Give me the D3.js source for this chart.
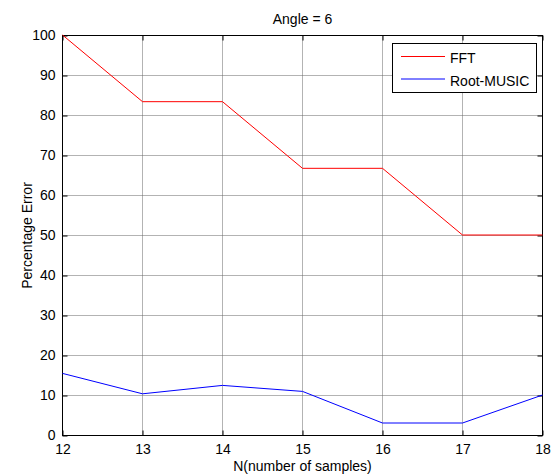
<!DOCTYPE html>
<html>
<head>
<meta charset="utf-8">
<script src="https://cdn.jsdelivr.net/npm/d3@7"></script>
<style>
  html, body { margin: 0; padding: 0; background: #fff; }
  svg { display: block; font-family: "Liberation Sans", Arial, sans-serif; }
</style>
</head>
<body>
<svg id="chart" width="552" height="476"></svg>
<script>
// Sample counts along the x axis
const samples = [12, 13, 14, 15, 16, 17, 18];
// Percentage error for each estimator
const fftError = [100, 83.33, 83.33, 66.67, 66.67, 50, 50];
const rootMusicError = [15.4, 10.3, 12.4, 10.9, 3.0, 3.0, 10];
const xTicks = [12, 13, 14, 15, 16, 17, 18];
const yTicks = [0, 10, 20, 30, 40, 50, 60, 70, 80, 90, 100];
const seriesNames = ["FFT", "Root-MUSIC"];
const seriesColors = ["#ff0000", "#0000ff"];

const svg = d3.select("#chart");
const m = { left: 62.5, right: 542.5, top: 35.5, bottom: 435.5 };

const x = d3.scaleLinear().domain([12, 18]).range([m.left, m.right]);
const y = d3.scaleLinear().domain([0, 100]).range([m.bottom, m.top]);

// Dotted grid
const grid = svg.append("g").attr("stroke", "#666").attr("stroke-dasharray", "1,1")
  .attr("stroke-width", 1);
xTicks.forEach(t => {
  grid.append("line").attr("x1", x(t)).attr("x2", x(t)).attr("y1", m.top).attr("y2", m.bottom);
});
yTicks.forEach(t => {
  grid.append("line").attr("x1", m.left).attr("x2", m.right).attr("y1", y(t)).attr("y2", y(t));
});

// Axes with inward ticks on all four sides
const tickLen = 5;
svg.append("g").attr("transform", `translate(0,${m.bottom})`)
  .call(d3.axisBottom(x).tickValues(xTicks).tickSize(-tickLen).tickPadding(9).tickFormat(d3.format("d")))
  .call(g => g.select(".domain").remove());
svg.append("g").attr("transform", `translate(0,${m.top})`)
  .call(d3.axisTop(x).tickValues(xTicks).tickSize(-tickLen).tickFormat(""))
  .call(g => g.select(".domain").remove());
svg.append("g").attr("transform", `translate(${m.left},0)`)
  .call(d3.axisLeft(y).tickValues(yTicks).tickSize(-tickLen).tickPadding(7).tickFormat(d3.format("d")))
  .call(g => g.select(".domain").remove());
svg.append("g").attr("transform", `translate(${m.right},0)`)
  .call(d3.axisRight(y).tickValues(yTicks).tickSize(-tickLen).tickFormat(""))
  .call(g => g.select(".domain").remove());

svg.selectAll(".tick text").attr("font-size", 14).attr("fill", "#000")
  .attr("font-family", "'Liberation Sans', Arial, sans-serif");
svg.selectAll(".tick line").attr("stroke", "#000");

// Axes box
svg.append("rect").attr("x", m.left).attr("y", m.top)
  .attr("width", m.right - m.left).attr("height", m.bottom - m.top)
  .attr("fill", "none").attr("stroke", "#000").attr("stroke-width", 1);

// Series lines (half-pixel shift gives the soft anti-aliased look)
const line = d3.line().x((d, i) => x(samples[i])).y(d => y(d));
const series = svg.append("g").attr("transform", "translate(0,-0.5)");
[fftError, rootMusicError].forEach((vals, k) => {
  series.append("path").datum(vals).attr("d", line)
    .attr("fill", "none").attr("stroke", seriesColors[k]).attr("stroke-width", 1);
});

// Title and axis labels
svg.append("text").attr("x", (m.left + m.right) / 2).attr("y", 24)
  .attr("text-anchor", "middle").attr("font-size", 14).text("Angle = 6");
svg.append("text").attr("x", (m.left + m.right) / 2).attr("y", 471)
  .attr("text-anchor", "middle").attr("font-size", 14).text("N(number of samples)");
svg.append("text").attr("transform", `translate(32,${(m.top + m.bottom) / 2}) rotate(-90)`)
  .attr("text-anchor", "middle").attr("font-size", 14).text("Percentage Error");

// Legend
const lg = svg.append("g");
lg.append("rect").attr("x", 392.5).attr("y", 43.5).attr("width", 144).attr("height", 49)
  .attr("fill", "#fff").attr("stroke", "#000").attr("stroke-width", 1);
seriesNames.forEach((name, k) => {
  const ly = 56.5 + k * 22.5;
  lg.append("line").attr("x1", 401).attr("x2", 445).attr("y1", ly).attr("y2", ly)
    .attr("stroke", seriesColors[k]).attr("stroke-width", 1);
  lg.append("text").attr("x", 450).attr("y", ly + 6.5).attr("font-size", 14).text(name);
});
</script>
</body>
</html>
